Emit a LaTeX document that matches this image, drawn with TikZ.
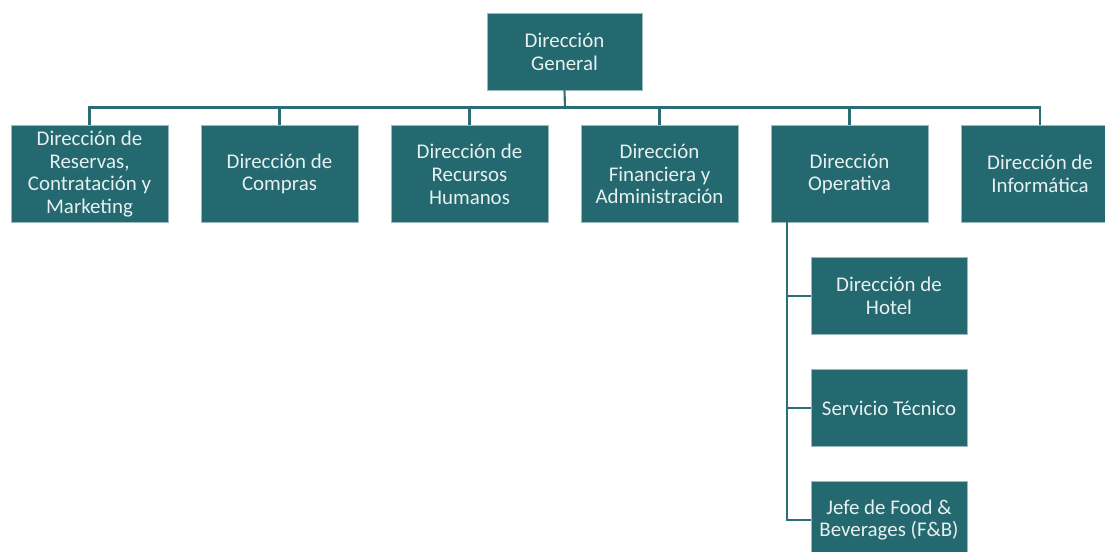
\documentclass[tikz,border=0pt]{standalone}
\usepackage{fontspec}
\setmainfont{Carlito}
\definecolor{orgteal}{RGB}{36,105,112}
\definecolor{orgtext}{RGB}{232,240,240}
\definecolor{orgline}{RGB}{44,110,117}
\tikzset{
  unit/.style={draw=orgtext!60!orgteal, line width=0.5pt, fill=orgteal, text=orgtext, rectangle, align=center,
    font=\fontsize{11.9}{13}\selectfont, inner sep=2pt},
  link/.style={draw=orgline, line width=1.2pt}
}
\begin{document}
\begin{tikzpicture}[x=0.02cm,y=-0.02cm]
\useasboundingbox (0,0) rectangle (1105,551);
\node[unit, minimum width=3.1cm, minimum height=1.54cm] (gen) at (564.5,51.5) {Dirección\\General};
\node[unit, minimum width=3.14cm, minimum height=1.94cm] (res) at (89.5,174) {Dirección de\\Reservas,\\Contratación y\\Marketing};
\node[unit, minimum width=3.14cm, minimum height=1.94cm] (com) at (279.5,174) {Dirección de\\Compras};
\node[unit, minimum width=3.14cm, minimum height=1.94cm] (rrhh) at (469.5,174) {Dirección de\\Recursos\\Humanos};
\node[unit, minimum width=3.14cm, minimum height=1.94cm] (fin) at (659.5,174) {Dirección\\Financiera y\\Administración};
\node[unit, minimum width=3.14cm, minimum height=1.94cm] (ope) at (849.5,174) {Dirección\\Operativa};
\node[unit, minimum width=3.14cm, minimum height=1.94cm] (inf) at (1040,174) {Dirección de\\Informática};
\node[unit, minimum width=3.12cm, minimum height=1.54cm] (hot) at (889,296) {Dirección de\\Hotel};
\node[unit, minimum width=3.12cm, minimum height=1.54cm] (tec) at (889,408) {Servicio Técnico};
\node[unit, minimum width=3.12cm, minimum height=1.54cm] (fnb) at (889,520) {Jefe de Food \&\\Beverages (F\&B)};
% main bus
\coordinate (bus) at (565,107.5);
\draw[link] (gen.south) -- (bus);
\draw[link] (res.north) |- (bus) -| (inf.north);
\draw[link] (com.north) -- (com.north |- bus);
\draw[link] (rrhh.north) -- (rrhh.north |- bus);
\draw[link] (fin.north) -- (fin.north |- bus);
\draw[link] (ope.north) -- (ope.north |- bus);
% operations branch
\coordinate (spine) at (787,222);
\draw[link] (spine) |- (fnb.west);
\draw[link] (spine |- hot.west) -- (hot.west);
\draw[link] (spine |- tec.west) -- (tec.west);
\end{tikzpicture}
\end{document}
